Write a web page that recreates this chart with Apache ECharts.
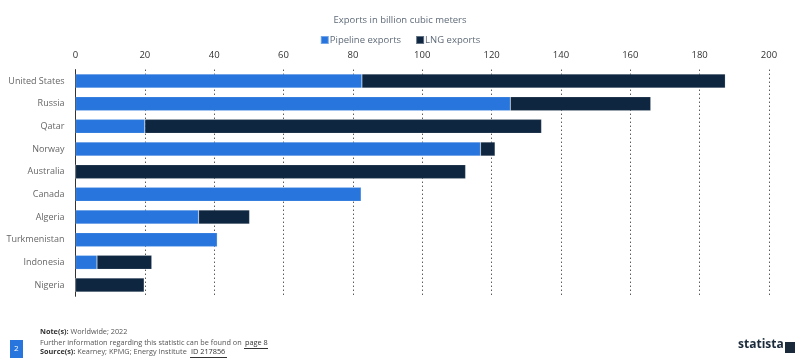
<!DOCTYPE html>
<html><head><meta charset="utf-8">
<script src="https://cdn.jsdelivr.net/npm/echarts@6/dist/echarts.min.js"></script>
<style>html,body{margin:0;padding:0;background:#fff}#c{width:800px;height:360px}</style>
</head><body><div id="c"></div>
<script>
const categories = ['United States','Russia','Qatar','Norway','Australia','Canada','Algeria','Turkmenistan','Indonesia','Nigeria'];
const pipelineExports = [82.6, 125.4, 20.0, 116.8, 0, 82.4, 35.5, 40.9, 6.2, 0];
const lngExports = [104.8, 40.5, 114.4, 4.2, 112.5, 0, 14.7, 0, 15.8, 19.8];
const xTicks = [0, 20, 40, 60, 80, 100, 120, 140, 160, 180, 200];

const chart = echarts.init(document.getElementById('c'));
const font = '"Open Sans", sans-serif';
chart.setOption({
  animation: false,
  title: { text: 'Exports in billion cubic meters', left: 'center', top: 10,
    textStyle: { fontFamily: font, fontSize: 9.5, fontWeight: 'normal', color: '#5f6b78' } },
  legend: { top: 30, left: 'center', itemWidth: 8, itemHeight: 8, itemGap: 14,
    icon: 'rect', textStyle: { fontFamily: font, fontSize: 9.5, color: '#5f6b78', padding: [0,0,0,-4] },
    data: ['Pipeline exports', 'LNG exports'] },
  grid: { left: 75.5, right: 31, top: 69.7, bottom: 63.7, containLabel: false, outerBoundsMode: 'none' },
  xAxis: { type: 'value', position: 'top', min: 0, max: 200, interval: 20,
    axisLine: { show: false }, axisTick: { show: false },
    axisLabel: { fontFamily: font, fontSize: 9.5, color: '#333', margin: 9,
      formatter: v => xTicks.includes(v) ? String(v) : '' },
    splitLine: { show: true, lineStyle: { type: [1, 3], color: '#111', width: 1 } } },
  yAxis: { type: 'category', inverse: true, data: categories,
    axisLine: { show: true, lineStyle: { color: '#333', width: 1 } }, axisTick: { show: false },
    axisLabel: { fontFamily: font, fontSize: 9, color: '#666', margin: 11 } },
  series: [
    { name: 'Pipeline exports', type: 'bar', stack: 'a', data: pipelineExports, barWidth: 14,
      itemStyle: { color: '#2876dd', borderColor: 'rgba(255,255,255,0.35)', borderWidth: 0.5 } },
    { name: 'LNG exports', type: 'bar', stack: 'a', data: lngExports, barWidth: 14,
      itemStyle: { color: '#0f2640', borderColor: 'rgba(255,255,255,0.35)', borderWidth: 0.5 } }
  ],
  graphic: [
    { type: 'rect', shape: { x: 10, y: 340, width: 13, height: 18 }, style: { fill: '#2876dd' } },
    { type: 'text', left: 14, top: 345, style: { text: '2', fill: '#fff', font: '8px "Open Sans"' } },
    { type: 'text', left: 40, top: 328, style: { rich: { b: { fontWeight: 'bold', fontSize: 7.3, fontFamily: font, fill: '#333' }, n: { fontSize: 7.3, fontFamily: font, fill: '#555' } }, text: '{b|Note(s):}{n| Worldwide; 2022}' } },
    { type: 'text', left: 40, top: 339, style: { text: 'Further information regarding this statistic can be found on', fill: '#555', font: '7.3px "Open Sans"' } },
    { type: 'text', left: 245, top: 339, style: { text: 'page 8', fill: '#333', font: '7.3px "Open Sans"' } },
    { type: 'rect', shape: { x: 244, y: 348, width: 24, height: 1 }, style: { fill: '#333' } },
    { type: 'text', left: 40, top: 348, style: { rich: { b: { fontWeight: 'bold', fontSize: 7.3, fontFamily: font, fill: '#333' }, n: { fontSize: 7.3, fontFamily: font, fill: '#555' } }, text: '{b|Source(s):}{n| Kearney; KPMG; Energy Institute}' } },
    { type: 'text', left: 191, top: 348, style: { text: 'ID 217856', fill: '#333', font: '7.3px "Open Sans"' } },
    { type: 'rect', shape: { x: 190, y: 357, width: 37, height: 1 }, style: { fill: '#333' } },
    { type: 'text', left: 738, top: 339, style: { text: 'statista', fill: '#1b2a3a', font: 'bold 12px "Open Sans"' } },
    { type: 'polygon', shape: { points: [[785,342],[795,342],[795,353],[785,353]] }, style: { fill: '#1b2a3a' } }
  ]
});
</script></body></html>
